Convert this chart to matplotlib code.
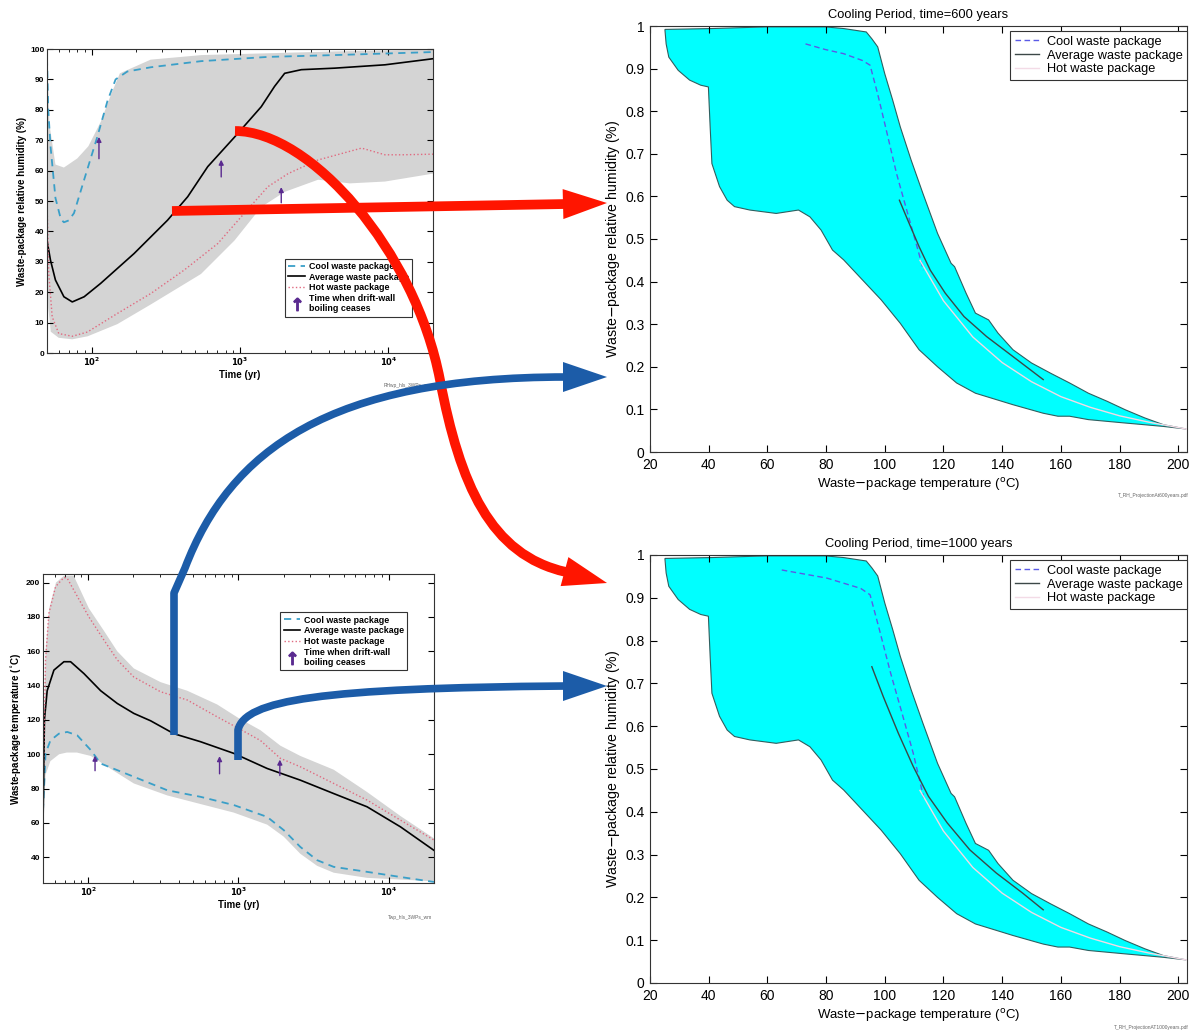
import numpy as np
import matplotlib
matplotlib.use('Agg')
import matplotlib.pyplot as plt
from matplotlib.path import Path
from matplotlib.patches import PathPatch, Polygon
from matplotlib.lines import Line2D

plt.rcParams['font.family'] = ['Liberation Sans', 'DejaVu Sans']

# ---- top-left: relative humidity vs time ----
rh_cool_t = [50, 51, 52.8, 57, 62, 65, 70, 76, 89, 109, 128, 145, 174, 251, 546, 1541, 4355, 20000]
rh_cool = [97, 80, 68, 51, 44, 43, 43.6, 46, 57, 71, 83, 90, 92.6, 94, 96, 97.4, 98, 99]
rh_avg_t = [50, 52.8, 57, 65, 74, 89, 115, 193, 325, 444, 606, 918, 1390, 1710, 2000, 2592, 4355, 9490, 20000]
rh_avg = [37, 30.5, 24, 18.5, 16.8, 18.5, 22.9, 32.7, 43.7, 51.4, 61.3, 71, 81, 87.7, 92, 93.2, 93.7, 94.8, 96.8]
rh_hot_t = [50, 51.4, 54.2, 60, 74, 93.6, 149, 251, 421, 708, 1019, 1541, 2108, 3360, 6600, 9490, 12300, 20000]
rh_hot = [50, 26, 11.9, 6.4, 5.5, 6.9, 13, 19.6, 27.3, 36, 44.8, 54.7, 59, 63.5, 67.4, 65.2, 65.2, 65.4]
rh_band_hi_t = [50, 52, 57, 65, 80, 95, 115, 135, 155, 250, 550, 4355, 20000]
rh_band_hi = [99, 75, 62, 61, 64, 68, 76, 85, 92, 96.5, 98, 99.2, 99.8]
rh_band_lo_t = [50, 51, 53, 60, 74, 94, 149, 251, 546, 918, 1390, 2000, 3360, 5500, 9490, 20000]
rh_band_lo = [40, 15, 7, 5, 4.5, 5.5, 9.5, 16, 26, 37, 48, 53, 57, 55.8, 56.4, 59]
rh_boil_t = [112, 747, 1897]
rh_boil_lo = [63, 57, 48.5]
rh_boil_hi = [72, 64.5, 55.5]

# ---- bottom-left: temperature vs time ----
tp_hot_t = [50, 52, 54.7, 60.7, 68.9, 72.5, 84.5, 101, 127, 156, 201, 303, 456, 721, 1004, 1400, 1900, 2580, 4300, 7170, 11970, 20000]
tp_hot = [77, 155, 182, 197.7, 203, 202.5, 192, 180, 166.6, 155, 145, 136.4, 131.6, 121.8, 115, 108, 97.6, 92.7, 83, 73.3, 61.6, 50]
tp_avg_t = [50, 51.1, 53.3, 59.1, 68.9, 76.3, 93.6, 121, 156, 201, 260, 371, 559, 931, 1552, 2580, 4300, 7170, 11970, 20000]
tp_avg = [57.7, 120, 137, 149, 153.9, 153.9, 147, 137, 129.6, 123.8, 119.5, 112, 107.3, 100.5, 91.7, 84.9, 77.1, 69.4, 57.7, 44]
tp_cool_t = [50, 52, 56, 63.8, 72.5, 84.5, 104, 121, 201, 336, 559, 931, 1552, 2000, 2580, 3337, 4300, 7170, 11970, 20000]
tp_cool = [67, 100.5, 108, 112, 113, 111, 102.4, 94.6, 86.9, 79, 75.2, 70.4, 63.5, 55.8, 46, 38.3, 34.4, 31.5, 28.5, 25.6]
tp_band_hi_t = [50, 52, 55, 61, 69, 80, 101, 127, 156, 201, 303, 456, 721, 1004, 1400, 1900, 2580, 4300, 7170, 11970, 20000]
tp_band_hi = [80, 160, 185, 200, 204, 204, 185, 172, 160, 150, 142, 137, 129, 121, 114, 105, 99, 91, 78, 64, 51]
tp_band_lo_t = [50, 52, 56, 64, 72, 84, 104, 150, 201, 336, 559, 931, 1552, 2000, 2580, 3337, 4300, 7170, 11970, 20000]
tp_band_lo = [55, 88, 96, 100, 101, 101, 99, 90, 83, 76, 71, 66, 59, 52, 42, 35, 31, 28, 27, 26]
tp_boil_t = [111, 748, 1884]
tp_boil_lo = [88.8, 87, 86]
tp_boil_hi = [100.8, 100.5, 98.5]

# ---- right: RH vs temperature envelope ----
env_hi_T = [25.1, 41, 60, 79.6, 86, 93.7, 95.6, 97.6, 100, 102.7, 105.3, 109, 113, 118, 122.6, 123.8, 127.7,
            130.9, 135.4, 138.6, 143.7, 150, 156.5, 163, 169.4, 175.8, 182, 188.6, 195, 202.7]
env_hi_RH = [0.992, 0.994, 0.998, 0.998, 0.994, 0.986, 0.97, 0.951, 0.888, 0.826, 0.763, 0.685, 0.607, 0.513,
             0.443, 0.435, 0.373, 0.326, 0.31, 0.279, 0.24, 0.209, 0.185, 0.162, 0.138, 0.119, 0.099, 0.08, 0.064, 0.054]
env_lo_T = [202.7, 195, 188.6, 182, 169.4, 163, 159, 154, 143.7, 130.9, 124.5, 118, 111.7, 105.3, 98.8, 92.4, 86,
            82.2, 78.3, 74.5, 70.6, 66.8, 63, 54, 48.8, 46.3, 43.7, 41.1, 40.5, 39.9, 37.3, 33.5, 29.6, 26.4, 25.5, 25.1]
env_lo_RH = [0.054, 0.06, 0.064, 0.068, 0.076, 0.084, 0.084, 0.091, 0.111, 0.138, 0.162, 0.2, 0.24, 0.302, 0.357,
             0.404, 0.451, 0.474, 0.521, 0.552, 0.568, 0.564, 0.56, 0.568, 0.576, 0.591, 0.623, 0.677, 0.763, 0.857,
             0.861, 0.873, 0.896, 0.927, 0.958, 0.99]
hot_T = [112, 120, 130, 140, 150, 160, 170, 180, 190, 202.7]
hot_RH = [0.45, 0.355, 0.27, 0.21, 0.165, 0.13, 0.105, 0.085, 0.07, 0.054]
cool600_T = [73, 79.6, 86, 92.4, 95, 97.6, 100, 104, 107.8, 111, 113.2]
cool600_RH = [0.958, 0.945, 0.935, 0.919, 0.908, 0.84, 0.771, 0.654, 0.56, 0.482, 0.427]
avg600_T = [105, 107.8, 111.7, 115.5, 120.6, 127, 134.7, 143.7, 154]
avg600_RH = [0.591, 0.545, 0.482, 0.427, 0.373, 0.318, 0.271, 0.224, 0.17]
cool1000_T = [64.9, 80.3, 91.8, 95, 98.2, 102, 105.9, 109.7, 113.3]
cool1000_RH = [0.965, 0.946, 0.922, 0.907, 0.825, 0.724, 0.63, 0.537, 0.432]
avg1000_T = [95.6, 99.5, 104.6, 109.7, 114.9, 121.3, 129, 138, 147, 154]
avg1000_RH = [0.739, 0.669, 0.584, 0.506, 0.436, 0.374, 0.311, 0.257, 0.21, 0.171]

W, H = 1189, 1034
fig = plt.figure(figsize=(W / 100, H / 100), dpi=100)


def px_axes(l, t, r, b):
    return fig.add_axes([l / W, 1 - b / H, (r - l) / W, (b - t) / H])


COOL_C = '#3a9fc8'
HOT_C = '#e06a80'
ARROW_C = '#5a2a90'


def left_plot(ax, band, cool, avg, hot, boil, ylabel, ylim, yticks, leg_anchor):
    hi_t, hi_v, lo_t, lo_v = band
    ax.fill(list(hi_t) + list(lo_t)[::-1], list(hi_v) + list(lo_v)[::-1], color='#d4d4d4', lw=0)
    ax.plot(cool[0], cool[1], '--', color=COOL_C, lw=1.3, dashes=(4, 3), label='Cool waste package')
    ax.plot(avg[0], avg[1], '-', color='black', lw=1.2, label='Average waste package')
    ax.plot(hot[0], hot[1], ':', color=HOT_C, lw=1.0, label='Hot waste package')
    for t, lo, hi in zip(*boil):
        ax.annotate('', xy=(t, hi), xytext=(t, lo),
                    arrowprops=dict(arrowstyle='-|>', color=ARROW_C, lw=1.0, mutation_scale=7))
    ax.set_xscale('log')
    ax.set_xlim(50, 20000)
    ax.set_ylim(*ylim)
    ax.set_yticks(yticks)
    ax.set_xticks([100, 1000, 10000])
    ax.set_xticklabels([r'$\mathbf{10^{2}}$', r'$\mathbf{10^{3}}$', r'$\mathbf{10^{4}}$'])
    ax.tick_params(which='both', direction='in', top=True, right=True, labelsize=6, pad=2)
    ax.tick_params(which='major', length=4)
    ax.tick_params(which='minor', length=2)
    for lab in ax.get_yticklabels():
        lab.set_fontweight('bold')
    for s in ax.spines.values():
        s.set_linewidth(0.8)
        s.set_color('#333333')
    ax.set_xlabel('Time (yr)', fontsize=7, fontweight='bold', labelpad=1)
    ax.set_ylabel(ylabel, fontsize=7, fontweight='bold', labelpad=2)
    h, l = ax.get_legend_handles_labels()
    h.append(Line2D([], [], ls='none', marker=r'$\uparrow$', color=ARROW_C, markersize=9))
    l.append('Time when drift-wall\nboiling ceases')
    leg = ax.legend(h, l, loc='upper left', bbox_to_anchor=leg_anchor,
                    prop={'weight': 'bold', 'size': 6.4}, fancybox=False, edgecolor='#333333',
                    handlelength=1.9, handletextpad=0.4, borderpad=0.35, labelspacing=0.2, framealpha=1)
    leg.get_frame().set_linewidth(0.8)


ax1 = px_axes(47, 49, 433, 353)
left_plot(ax1, (rh_band_hi_t, rh_band_hi, rh_band_lo_t, rh_band_lo),
          (rh_cool_t, rh_cool), (rh_avg_t, rh_avg), (rh_hot_t, rh_hot),
          (rh_boil_t, rh_boil_lo, rh_boil_hi), 'Waste-package relative humidity (%)',
          (0, 100), range(0, 101, 10), (0.606, 0.325))

ax2 = px_axes(43, 574, 434, 883)
left_plot(ax2, (tp_band_hi_t, tp_band_hi, tp_band_lo_t, tp_band_lo),
          (tp_cool_t, tp_cool), (tp_avg_t, tp_avg), (tp_hot_t, tp_hot),
          (tp_boil_t, tp_boil_lo, tp_boil_hi), r'Waste-package temperature ($^{\circ}$C)',
          (25, 205), range(40, 201, 20), (0.596, 0.89))


def right_plot(ax, title, cool, avg):
    ax.fill(env_hi_T + env_lo_T, env_hi_RH + env_lo_RH, facecolor='#00ffff', edgecolor='#2f5f5f', lw=0.8)
    ax.plot(cool[0], cool[1], '--', color='#5a5ae6', lw=1.0, dashes=(4, 2.5), label='Cool waste package')
    ax.plot(avg[0], avg[1], '-', color='#3c4848', lw=1.0, label='Average waste package')
    ax.plot(hot_T, hot_RH, '-', color='#f3dbe6', lw=1.0, label='Hot waste package')
    ax.set_xlim(20, 203)
    ax.set_ylim(0, 1)
    ax.set_xticks(range(20, 201, 20))
    ax.set_yticks(np.arange(0, 1.01, 0.1))
    ax.set_yticklabels(['0', '0.1', '0.2', '0.3', '0.4', '0.5', '0.6', '0.7', '0.8', '0.9', '1'])
    ax.tick_params(direction='in', top=True, right=True, labelsize=10, length=5, pad=4)
    for s in ax.spines.values():
        s.set_linewidth(0.8)
        s.set_color('#333333')
    ax.set_title(title, fontsize=9.3, pad=6)
    ax.set_xlabel(r'Waste$-$package temperature ($^{\rm o}$C)', fontsize=9.5, labelpad=3)
    ax.set_ylabel(r'Waste$-$package relative humidity (%)', fontsize=10.2, labelpad=2)
    leg = ax.legend(loc='upper right', bbox_to_anchor=(1.0, 0.988), borderaxespad=0, fontsize=9.2,
                    fancybox=False, edgecolor='#333333', framealpha=1, handlelength=1.9,
                    borderpad=0.35, labelspacing=0.15, handletextpad=0.6)
    leg.get_frame().set_linewidth(0.8)


ax3 = px_axes(650, 26, 1187, 452)
right_plot(ax3, 'Cooling Period, time=600 years', (cool600_T, cool600_RH), (avg600_T, avg600_RH))
ax4 = px_axes(650, 555, 1187, 983)
right_plot(ax4, 'Cooling Period, time=1000 years', (cool1000_T, cool1000_RH), (avg1000_T, avg1000_RH))

# file name tags
for x, y, s in [(432, 386, 'RHwp_hls_3WPs_wm'), (432, 918, 'Twp_hls_3WPs_wm'),
                (1189, 495, 'T_RH_ProjectionAt600years.pdf'), (1189, 1028, 'T_RH_ProjectionAT1000years.pdf')]:
    fig.text(x / W, 1 - y / H, s, ha='right', va='center', fontsize=3.5, color='#666666')

# overlay for the connecting arrows (figure pixels)
ov = fig.add_axes([0, 0, 1, 1], zorder=20)
ov.set_xlim(0, W)
ov.set_ylim(H, 0)
ov.axis('off')
ov.patch.set_alpha(0)

RED = '#ff1500'
BLUE = '#1c5ca8'


def big_arrow(verts, codes, tip, color, lw, head_len=44, head_w=15):
    ov.add_patch(PathPatch(Path(verts, codes), fill=False, edgecolor=color, lw=lw, capstyle='butt',
                           joinstyle='round'))
    end = np.array(verts[-1], float)
    tip = np.array(tip, float)
    d = (tip - end) / np.hypot(*(tip - end))
    base = tip - d * head_len
    p = np.array([-d[1], d[0]])
    ov.add_patch(Polygon([tip, base + p * head_w, base - p * head_w], closed=True, color=color, lw=0))


M, L, C = Path.MOVETO, Path.LINETO, Path.CURVE4
big_arrow([(172, 211), (566, 204)], [M, L], (607, 203), RED, 7)
big_arrow([(235, 131), (310, 131), (415, 250), (440, 380), (460, 484), (490, 555), (566, 572)],
          [M, C, C, C, C, C, C], (607, 583), RED, 7)
big_arrow([(174, 735), (174, 593), (185, 568), (230, 450), (330, 377), (566, 377)],
          [M, L, L, C, C, C], (607, 377), BLUE, 5.5)
big_arrow([(238, 760), (238, 730), (245, 700), (320, 688), (566, 686)],
          [M, L, C, C, C], (607, 686), BLUE, 5.5)

fig.savefig('out.png', dpi=100)
